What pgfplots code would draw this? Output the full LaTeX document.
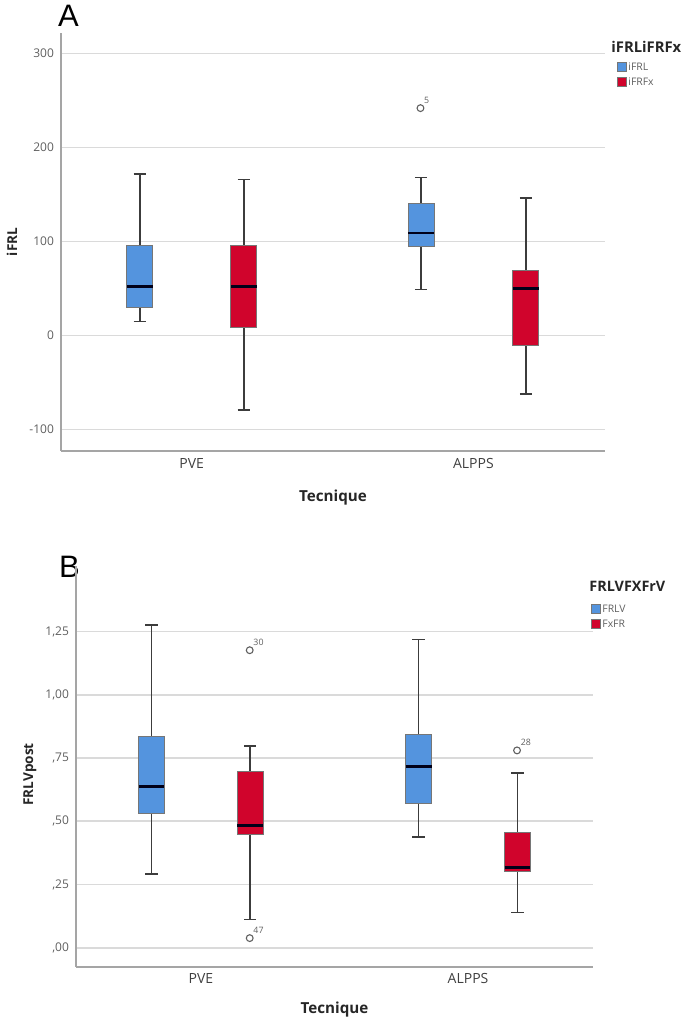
\documentclass[border=0pt]{standalone}
\usepackage{fontspec}
\setmainfont{Open Sans}
\newfontfamily\letterfont{Liberation Sans}
\usepackage{pgfplots}
\pgfplotsset{compat=1.18}
\usepgfplotslibrary{statistics}

\definecolor{boxblue}{RGB}{84,148,222}
\definecolor{boxred}{RGB}{208,4,44}
\definecolor{gridc}{RGB}{218,218,218}
\definecolor{axisc}{RGB}{165,165,165}
\definecolor{tickc}{RGB}{95,95,95}
\definecolor{whisk}{RGB}{60,60,60}

% x positions: categories at 0 (PVE) and about 1 (ALPPS), boxes offset either side
\pgfplotsset{
  spss/.style={
    scale only axis, clip=false,
    axis x line*=bottom, axis y line*=left,
    axis line style={-, axisc, line width=0.9pt},
    ymajorgrids, grid style={gridc, line width=0.8pt},
    major tick length=0pt,
    yticklabel style={font=\fontsize{6}{7}\selectfont, text=tickc},
    xticklabel style={font=\fontsize{7}{8}\selectfont, text=black!75},
    xlabel style={font=\bfseries\fontsize{7.6}{8}\selectfont, text=black!85},
    ylabel style={font=\bfseries\fontsize{6.8}{8}\selectfont, text=black!85},
    /pgf/number format/assume math mode=true,
  },
  bx/.style={draw=whisk, line width=0.85pt,
    boxplot/draw direction=y,
    boxplot/box extend=0.092, boxplot/whisker extend=0.043,
    boxplot/every median/.style={black!90!blue, line width=1.4pt}},
  bluebox/.style={bx, boxplot/every box/.style={fill=boxblue, draw=whisk!70, line width=0.45pt}},
  redbox/.style={bx, boxplot/every box/.style={fill=boxred, draw=whisk!70, line width=0.45pt}},
  outl/.style={only marks, mark=o, mark size=1.7pt, mark options={draw=tickc, line width=0.55pt},
    nodes near coords, point meta=explicit symbolic,
    nodes near coords style={anchor=south west, font=\fontsize{4.4}{5}\selectfont, text=tickc,
      inner sep=0.4pt, xshift=1.2pt, yshift=1.5pt}},
}

\begin{document}
\begin{tikzpicture}
\path[use as bounding box] (0pt,0pt) rectangle (342.5pt,510pt);

% Panel A
\node[anchor=base west, font=\letterfont\fontsize{15.5}{16}\selectfont] at (25.5pt,496.5pt) {A};
\begin{axis}[spss,
  at={(30.5pt,284.5pt)}, anchor=south west,
  width=272pt, height=209pt,
  xmin=-0.464, xmax=1.467, ymin=-123, ymax=322,
  ytick={-100,0,100,200,300},
  xtick={0,1}, xticklabels={PVE,ALPPS},
  xlabel={Tecnique}, ylabel={iFRL},
  xlabel style={at={(axis description cs:0.5,-0.112)}, anchor=center},
  ylabel style={at={(axis description cs:-0.09,0.5)}, anchor=center},
]
\addplot[bluebox, boxplot prepared={draw position=-0.1846, lower whisker=15, lower quartile=30,
  median=52, upper quartile=96, upper whisker=172}] coordinates {};
\addplot[redbox, boxplot prepared={draw position=0.1846, lower whisker=-79, lower quartile=9,
  median=52, upper quartile=96, upper whisker=166}] coordinates {};
\addplot[bluebox, boxplot prepared={draw position=0.814, lower whisker=49, lower quartile=95,
  median=109, upper quartile=141, upper whisker=168}] coordinates {};
\addplot[redbox, boxplot prepared={draw position=1.186, lower whisker=-62, lower quartile=-11,
  median=50, upper quartile=69, upper whisker=146}] coordinates {};
\addplot[outl] coordinates {(0.812,242) [5]};
\end{axis}

% legend A
\node[anchor=west, inner sep=0pt, font=\bfseries\fontsize{7.4}{8}\selectfont, text=black!85] at (305.5pt,486.5pt) {iFRLiFRFx};
\fill[boxblue, draw=whisk!70, line width=0.3pt] (308.5pt,474.5pt) rectangle (313pt,479pt);
\fill[boxred, draw=whisk!70, line width=0.3pt] (308.5pt,467pt) rectangle (313pt,471.5pt);
\node[anchor=west, inner sep=0pt, font=\fontsize{5.2}{6}\selectfont, text=tickc] at (314pt,476.75pt) {iFRL};
\node[anchor=west, inner sep=0pt, font=\fontsize{5.2}{6}\selectfont, text=tickc] at (314pt,469.25pt) {iFRFx};

% Panel B
\node[anchor=base west, font=\letterfont\fontsize{15.5}{16}\selectfont] at (26pt,221pt) {B};
\begin{axis}[spss,
  at={(38pt,26.65pt)}, anchor=south west,
  width=258.5pt, height=200.35pt,
  xmin=-0.4433, xmax=1.390, ymin=-0.075, ymax=1.509,
  ytick={0,0.25,0.5,0.75,1,1.25},
  yticklabels={{,00},{,25},{,50},{,75},{1,00},{1,25}},
  xtick={0,0.947}, xticklabels={PVE,ALPPS},
  xlabel={Tecnique}, ylabel={FRLVpost},
  xlabel style={at={(axis description cs:0.5,-0.108)}, anchor=center},
  ylabel style={at={(axis description cs:-0.089,0.48)}, anchor=center},
]
\addplot[bluebox, boxplot prepared={draw position=-0.1755, lower whisker=0.291, lower quartile=0.532,
  median=0.638, upper quartile=0.837, upper whisker=1.276}] coordinates {};
\addplot[redbox, boxplot prepared={draw position=0.1745, lower whisker=0.111, lower quartile=0.446,
  median=0.482, upper quartile=0.696, upper whisker=0.797}] coordinates {};
\addplot[bluebox, boxplot prepared={draw position=0.7713, lower whisker=0.438, lower quartile=0.569,
  median=0.717, upper quartile=0.845, upper whisker=1.218}] coordinates {};
\addplot[redbox, boxplot prepared={draw position=1.1223, lower whisker=0.139, lower quartile=0.300,
  median=0.317, upper quartile=0.455, upper whisker=0.691}] coordinates {};
\addplot[outl] coordinates {(0.1727,1.176) [30] (0.1727,0.038) [47] (1.1206,0.780) [28]};
\end{axis}

% legend B
\node[anchor=west, inner sep=0pt, font=\bfseries\fontsize{7.2}{8}\selectfont, text=black!85] at (294.5pt,217pt) {FRLVFXFrV};
\fill[boxblue, draw=whisk!70, line width=0.3pt] (295.5pt,203.5pt) rectangle (300pt,208pt);
\fill[boxred, draw=whisk!70, line width=0.3pt] (295.5pt,196pt) rectangle (300pt,200.5pt);
\node[anchor=west, inner sep=0pt, font=\fontsize{5.2}{6}\selectfont, text=tickc] at (301pt,205.75pt) {FRLV};
\node[anchor=west, inner sep=0pt, font=\fontsize{5.2}{6}\selectfont, text=tickc] at (301pt,198.25pt) {FxFR};
\end{tikzpicture}
\end{document}
